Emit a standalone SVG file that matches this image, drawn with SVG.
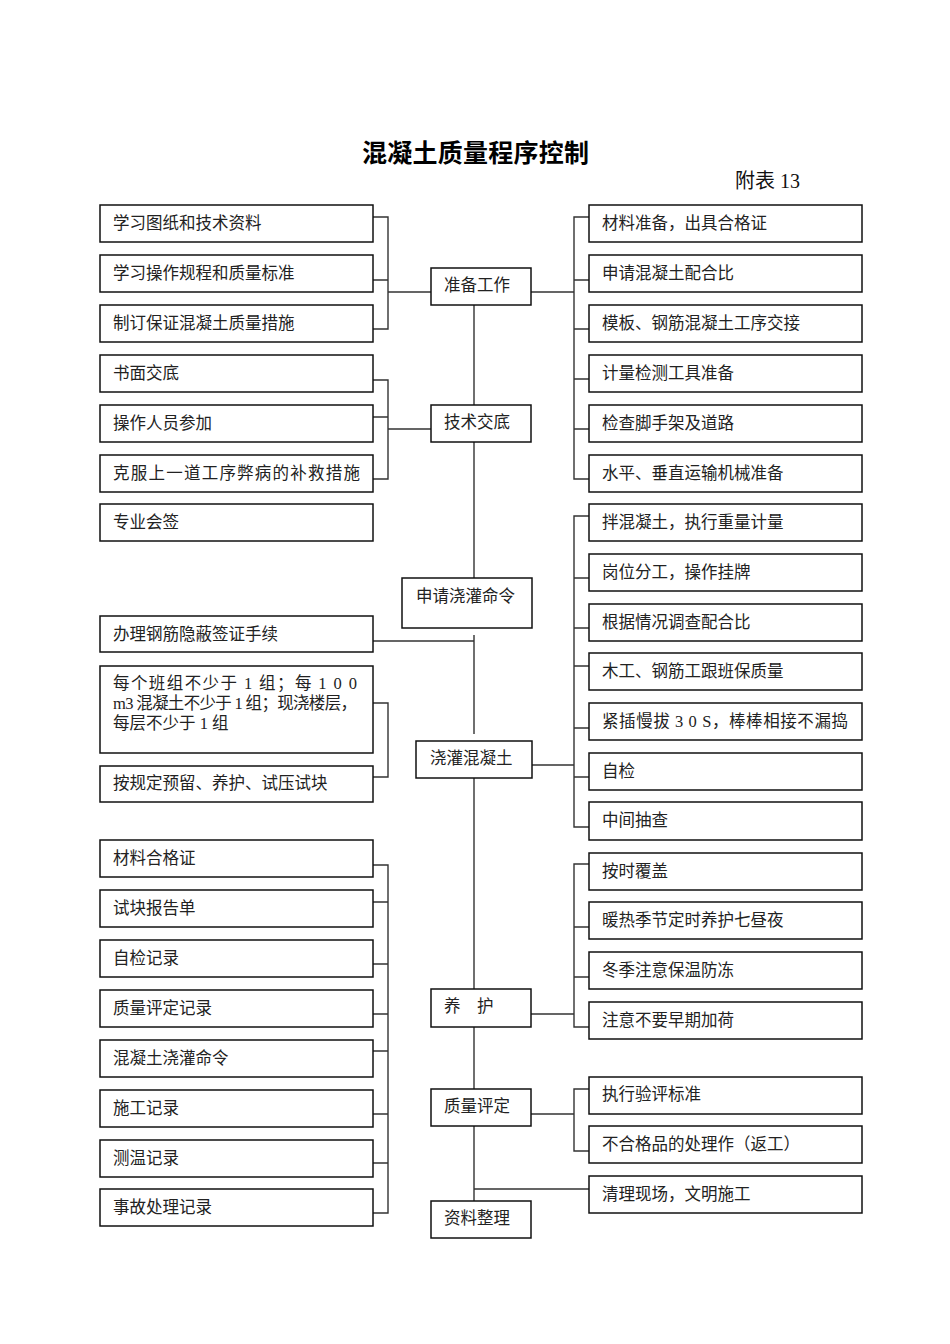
<svg xmlns="http://www.w3.org/2000/svg" width="950" height="1344" viewBox="0 0 950 1344">
<style>
.b{fill:#fff;stroke:#111;stroke-width:1.5}
.t{font-family:"Liberation Serif","Noto Sans CJK SC",serif;font-size:16.5px;fill:#222}
.c{fill:none;stroke:#333;stroke-width:1.4}
.title{font-family:"Liberation Sans","Noto Sans CJK SC",sans-serif;font-size:25px;font-weight:bold;fill:#000}
.sub{font-family:"Liberation Serif","Noto Sans CJK SC",serif;font-size:20px;fill:#111}
</style>
<rect x="0" y="0" width="950" height="1344" fill="#fff"/>
<text class="title" x="362" y="162" textLength="227">混凝土质量程序控制</text>
<text class="sub" x="735" y="188">附表 13</text>

<g id="connectors">
<!-- center spine -->
<path class="c" d="M474 305V405M474 442V578M474 635V734M474 778V989M474 1027V1089M474 1126V1201"/>
<path class="c" d="M373 641H474M474 1189H589"/>
<!-- left brackets -->
<path class="c" d="M373 217H388V329H373M373 280H388M388 292H431"/>
<path class="c" d="M373 380H388V479H373M373 417H388M388 429H431"/>
<path class="c" d="M373 703H388V777H373"/>
<path class="c" d="M373 865H388V1213H373M373 902H388M373 964H388M373 1014H388M373 1051H388M373 1114H388M373 1163H388"/>
<!-- right brackets -->
<path class="c" d="M589 217H574V479H589M574 280H589M574 329H589M574 379H589M574 429H589M531 292H574"/>
<path class="c" d="M589 516H574V827H589M574 578H589M574 628H589M574 666H589M574 728H589M574 777H589M531 765H574"/>
<path class="c" d="M589 864H574V1027H589M574 927H589M574 977H589M531 1014H574"/>
<path class="c" d="M589 1089H574V1151H589M531 1114H574"/>
</g>

<!-- center nodes -->
<g id="n-zhunbei"><rect class="b" x="431" y="268" width="100" height="37"/><text class="t" x="444" y="291">准备工作</text></g>
<g id="n-jishu"><rect class="b" x="431" y="405" width="100" height="37"/><text class="t" x="444" y="428">技术交底</text></g>
<g id="n-shenqing"><rect class="b" x="402" y="578" width="130" height="50"/><text class="t" x="416" y="602">申请浇灌命令</text></g>
<g id="n-jiaoguan"><rect class="b" x="416" y="741" width="116" height="37"/><text class="t" x="430" y="764">浇灌混凝土</text></g>
<g id="n-yanghu"><rect class="b" x="431" y="989" width="100" height="38"/><text class="t" x="444" y="1012">养　护</text></g>
<g id="n-zhiliang"><rect class="b" x="431" y="1089" width="100" height="37"/><text class="t" x="444" y="1112">质量评定</text></g>
<g id="n-ziliao"><rect class="b" x="431" y="1201" width="100" height="37"/><text class="t" x="444" y="1224">资料整理</text></g>

<!-- left nodes -->
<g id="l1"><rect class="b" x="100" y="205" width="273" height="37"/><text class="t" x="113" y="229">学习图纸和技术资料</text></g>
<g id="l2"><rect class="b" x="100" y="255" width="273" height="37"/><text class="t" x="113" y="279">学习操作规程和质量标准</text></g>
<g id="l3"><rect class="b" x="100" y="305" width="273" height="37"/><text class="t" x="113" y="329">制订保证混凝土质量措施</text></g>
<g id="l4"><rect class="b" x="100" y="355" width="273" height="37"/><text class="t" x="113" y="379">书面交底</text></g>
<g id="l5"><rect class="b" x="100" y="405" width="273" height="37"/><text class="t" x="113" y="429">操作人员参加</text></g>
<g id="l6"><rect class="b" x="100" y="455" width="273" height="37"/><text class="t" x="113" y="479" textLength="247">克服上一道工序弊病的补救措施</text></g>
<g id="l7"><rect class="b" x="100" y="504" width="273" height="37"/><text class="t" x="113" y="528">专业会签</text></g>
<g id="l8"><rect class="b" x="100" y="616" width="273" height="36"/><text class="t" x="113" y="640">办理钢筋隐蔽签证手续</text></g>
<g id="l9"><rect class="b" x="100" y="666" width="273" height="87"/>
<text class="t" x="113" y="689" textLength="244">每个班组不少于 1 组；每 1 0 0</text>
<text class="t" x="113" y="709" textLength="244">m3 混凝土不少于 1 组；现浇楼层，</text>
<text class="t" x="113" y="729">每层不少于 1 组</text></g>
<g id="l10"><rect class="b" x="100" y="766" width="273" height="36"/><text class="t" x="113" y="789">按规定预留、养护、试压试块</text></g>
<g id="l11"><rect class="b" x="100" y="840" width="273" height="37"/><text class="t" x="113" y="864">材料合格证</text></g>
<g id="l12"><rect class="b" x="100" y="890" width="273" height="37"/><text class="t" x="113" y="914">试块报告单</text></g>
<g id="l13"><rect class="b" x="100" y="940" width="273" height="37"/><text class="t" x="113" y="964">自检记录</text></g>
<g id="l14"><rect class="b" x="100" y="990" width="273" height="37"/><text class="t" x="113" y="1014">质量评定记录</text></g>
<g id="l15"><rect class="b" x="100" y="1040" width="273" height="37"/><text class="t" x="113" y="1064">混凝土浇灌命令</text></g>
<g id="l16"><rect class="b" x="100" y="1090" width="273" height="37"/><text class="t" x="113" y="1114">施工记录</text></g>
<g id="l17"><rect class="b" x="100" y="1140" width="273" height="37"/><text class="t" x="113" y="1164">测温记录</text></g>
<g id="l18"><rect class="b" x="100" y="1189" width="273" height="37"/><text class="t" x="113" y="1213">事故处理记录</text></g>

<!-- right nodes -->
<g id="r1"><rect class="b" x="589" y="205" width="273" height="37"/><text class="t" x="602" y="229">材料准备，出具合格证</text></g>
<g id="r2"><rect class="b" x="589" y="255" width="273" height="37"/><text class="t" x="602" y="279">申请混凝土配合比</text></g>
<g id="r3"><rect class="b" x="589" y="305" width="273" height="37"/><text class="t" x="602" y="329">模板、钢筋混凝土工序交接</text></g>
<g id="r4"><rect class="b" x="589" y="355" width="273" height="37"/><text class="t" x="602" y="379">计量检测工具准备</text></g>
<g id="r5"><rect class="b" x="589" y="405" width="273" height="37"/><text class="t" x="602" y="429">检查脚手架及道路</text></g>
<g id="r6"><rect class="b" x="589" y="455" width="273" height="37"/><text class="t" x="602" y="479">水平、垂直运输机械准备</text></g>
<g id="r7"><rect class="b" x="589" y="504" width="273" height="37"/><text class="t" x="602" y="528">拌混凝土，执行重量计量</text></g>
<g id="r8"><rect class="b" x="589" y="554" width="273" height="37"/><text class="t" x="602" y="578">岗位分工，操作挂牌</text></g>
<g id="r9"><rect class="b" x="589" y="604" width="273" height="37"/><text class="t" x="602" y="628">根据情况调查配合比</text></g>
<g id="r10"><rect class="b" x="589" y="653" width="273" height="37"/><text class="t" x="602" y="677">木工、钢筋工跟班保质量</text></g>
<g id="r11"><rect class="b" x="589" y="703" width="273" height="37"/><text class="t" x="602" y="727" textLength="246">紧插慢拔 3 0 S，棒棒相接不漏捣</text></g>
<g id="r12"><rect class="b" x="589" y="753" width="273" height="37"/><text class="t" x="602" y="777">自检</text></g>
<g id="r13"><rect class="b" x="589" y="802" width="273" height="38"/><text class="t" x="602" y="826">中间抽查</text></g>
<g id="r14"><rect class="b" x="589" y="853" width="273" height="37"/><text class="t" x="602" y="877">按时覆盖</text></g>
<g id="r15"><rect class="b" x="589" y="902" width="273" height="37"/><text class="t" x="602" y="926">暖热季节定时养护七昼夜</text></g>
<g id="r16"><rect class="b" x="589" y="952" width="273" height="37"/><text class="t" x="602" y="976">冬季注意保温防冻</text></g>
<g id="r17"><rect class="b" x="589" y="1002" width="273" height="37"/><text class="t" x="602" y="1026">注意不要早期加荷</text></g>
<g id="r18"><rect class="b" x="589" y="1077" width="273" height="37"/><text class="t" x="602" y="1100">执行验评标准</text></g>
<g id="r19"><rect class="b" x="589" y="1126" width="273" height="37"/><text class="t" x="602" y="1150">不合格品的处理作（返工）</text></g>
<g id="r20"><rect class="b" x="589" y="1176" width="273" height="37"/><text class="t" x="602" y="1200">清理现场，文明施工</text></g>
</svg>
